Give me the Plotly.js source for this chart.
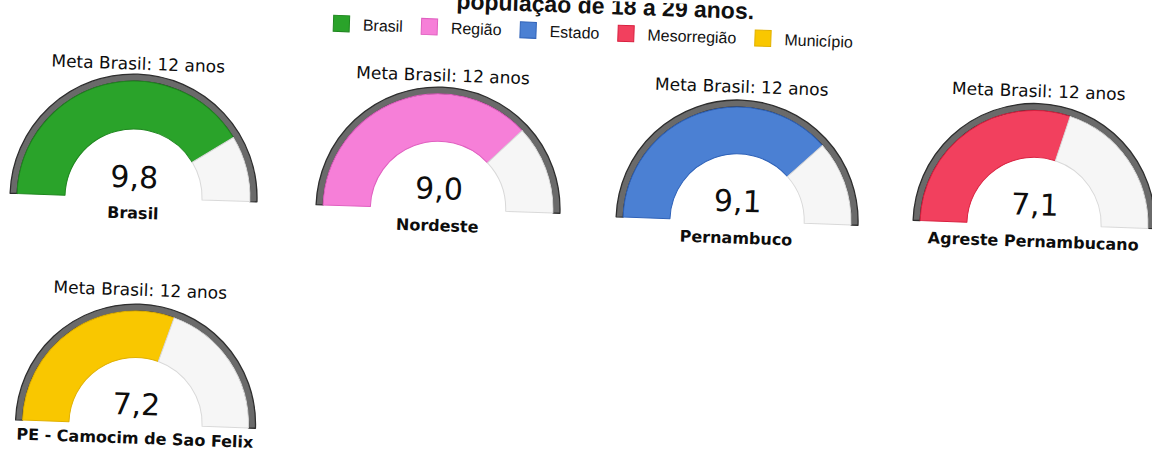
<!DOCTYPE html>
<html>
<head>
<meta charset="utf-8">
<script src="https://cdn.plot.ly/plotly-3.0.1.min.js"></script>
<style>
  html, body { margin: 0; padding: 0; background: #ffffff; overflow: hidden; width: 1152px; height: 452px; }
  #chart { position: absolute; left: 0; top: 0; width: 1200px; height: 700px;
           transform: rotate(2deg); transform-origin: 576px 226px; }
</style>
</head>
<body>
<div id="chart"></div>
<script>
// ---- data ----
const titleText = 'população de 18 a 29 anos.';
const categories = ['Brasil', 'Região', 'Estado', 'Mesorregião', 'Município'];
const places = ['Brasil', 'Nordeste', 'Pernambuco', 'Agreste Pernambucano', 'PE - Camocim de Sao Felix'];
const values = [9.8, 9.0, 9.1, 7.1, 7.2];
const metaValue = 12;
const metaLabel = 'Meta Brasil: 12 anos';

// ---- styles / layout positions ----
const colors = ['#2aa32a', '#f67fd8', '#4b80d3', '#f2405e', '#f9c700'];
const edgeColors = ['#1f861f', '#e060c0', '#2f62b8', '#d8203f', '#e0b000'];
const W = 1200, H = 700;
const cx = [132.8, 437.5, 736.8, 1033.7, 142.7];
const cy = [213.0, 213.8, 215.4, 208.5, 439.3];
const R = [123.5, 122, 121, 121, 120];
const labelDy = [15, 17, 17, 17, 14];
const ringW = 7;

function dom(x, y, r) {
  return { x: [(x - r) / W, (x + r) / W], y: [1 - (y + r) / H, 1 - (y - r) / H] };
}

const traces = [];
const annotations = [];
const fmt = v => v.toFixed(1).replace('.', ',');

places.forEach((p, i) => {
  const v = values[i];
  // outer ring
  traces.push({
    type: 'pie', values: [1, 1], labels: ['anel', 'vazio'], sort: false,
    direction: 'clockwise', rotation: -90, hole: (R[i] - ringW) / R[i],
    domain: dom(cx[i], cy[i], R[i]), textinfo: 'none', hoverinfo: 'skip', showlegend: false,
    marker: { colors: ['#6a6a6a', 'rgba(0,0,0,0)'],
              line: { color: ['#2e2e2e', 'rgba(0,0,0,0)'], width: [1.3, 0] } }
  });
  // value band
  const rf = R[i] - ringW;
  traces.push({
    type: 'pie', values: [v, metaValue - v, metaValue], labels: [p, 'restante', 'vazio'], sort: false,
    direction: 'clockwise', rotation: -90, hole: (0.555 * R[i]) / rf,
    domain: dom(cx[i], cy[i], rf), textinfo: 'none', hoverinfo: 'skip', showlegend: false,
    marker: { colors: [colors[i], '#f6f6f6', 'rgba(0,0,0,0)'],
              line: { color: [edgeColors[i], '#d9d9d9', 'rgba(0,0,0,0)'], width: [1, 1, 0] } }
  });
  annotations.push({ xref: 'paper', yref: 'paper', x: cx[i] / W, y: 1 - (cy[i] - 134) / H,
    xanchor: 'center', yanchor: 'middle', showarrow: false, text: metaLabel,
    font: { family: 'DejaVu Sans', size: 17, color: '#0d0d0d' } });
  annotations.push({ xref: 'paper', yref: 'paper', x: cx[i] / W, y: 1 - (cy[i] - 20) / H,
    xanchor: 'center', yanchor: 'middle', showarrow: false, text: fmt(v),
    font: { family: 'DejaVu Sans', size: 30, color: '#0d0d0d' } });
  annotations.push({ xref: 'paper', yref: 'paper', x: cx[i] / W, y: 1 - (cy[i] + labelDy[i]) / H,
    xanchor: 'center', yanchor: 'middle', showarrow: false, text: '<b>' + p + '</b>',
    font: { family: 'DejaVu Sans', size: 16, color: '#0d0d0d' } });
});

// legend entries
categories.forEach((c, i) => {
  traces.push({
    type: 'scatter', mode: 'markers', x: [-5], y: [-5], name: c, hoverinfo: 'skip',
    marker: { symbol: 'square', size: 16, color: colors[i], line: { color: edgeColors[i], width: 1 } }
  });
});

const layout = {
  width: W, height: H,
  margin: { l: 0, r: 0, t: 0, b: 0 },
  paper_bgcolor: '#ffffff', plot_bgcolor: '#ffffff',
  title: { text: '<b>' + titleText + '</b>', x: 597.6 / W, xanchor: 'center', xref: 'paper',
           y: 1 - 5 / H, yref: 'container', yanchor: 'middle',
           font: { family: 'Liberation Sans', size: 23, color: '#111111' } },
  xaxis: { visible: false, range: [0, 1], fixedrange: true },
  yaxis: { visible: false, range: [0, 1], fixedrange: true },
  showlegend: true,
  legend: { orientation: 'h', x: 313 / W, xanchor: 'left', y: 1 - 32 / H, yanchor: 'middle',
            itemwidth: 33,
            font: { family: 'Liberation Sans', size: 16, color: '#111111' }, bgcolor: 'rgba(0,0,0,0)' },
  annotations: annotations
};

Plotly.newPlot('chart', traces, layout, { staticPlot: true, displayModeBar: false });
</script>
</body>
</html>
